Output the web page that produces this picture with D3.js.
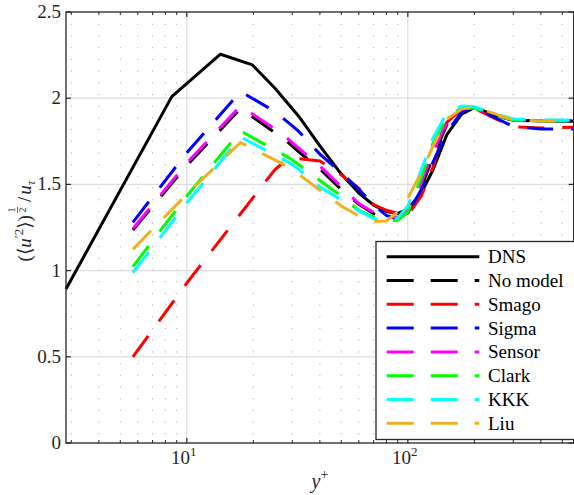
<!DOCTYPE html>
<html><head><meta charset="utf-8">
<script src="https://cdn.jsdelivr.net/npm/d3@7/dist/d3.min.js"></script>
<style>body{margin:0;background:#fff} svg{display:block} text{font-family:"Liberation Serif","Times New Roman","DejaVu Serif",serif;}</style>
</head><body>
<svg id="c" width="574" height="495"></svg>
<script>
// ---- data ----
const dnsX = [2.84, 8.55, 14.2, 19.8, 25, 32, 40, 50, 60, 70, 80, 90, 100, 115, 130, 150, 175, 200, 250, 300, 400, 560];
const dnsY = [0.893, 2.009, 2.255, 2.193, 2.059, 1.897, 1.724, 1.56, 1.45, 1.38, 1.343, 1.331, 1.357, 1.45, 1.585, 1.787, 1.908, 1.945, 1.90, 1.874, 1.868, 1.868];
const lesX = [5.7, 10, 17.5, 25, 29, 32, 40, 50, 60, 70, 80, 90, 100, 115, 130, 150, 175, 200, 250, 300, 400, 560];
const noModel = [1.235, 1.61, 1.94, 1.80, 1.74, 1.69, 1.59, 1.47, 1.385, 1.33, 1.31, 1.305, 1.335, 1.48, 1.66, 1.845, 1.93, 1.945, 1.90, 1.872, 1.866, 1.866];
const smago = [0.50, 0.928, 1.33, 1.585, 1.655, 1.65, 1.636, 1.555, 1.479, 1.383, 1.35, 1.331, 1.322, 1.433, 1.60, 1.86, 1.935, 1.94, 1.88, 1.835, 1.827, 1.832];
const sigma = [1.28, 1.684, 2.039, 1.923, 1.855, 1.809, 1.676, 1.566, 1.473, 1.38, 1.32, 1.30, 1.33, 1.47, 1.63, 1.80, 1.92, 1.95, 1.885, 1.835, 1.822, 1.822];
const sensor = [1.243, 1.624, 1.955, 1.821, 1.759, 1.711, 1.607, 1.485, 1.389, 1.337, 1.317, 1.31, 1.35, 1.508, 1.688, 1.862, 1.937, 1.943, 1.897, 1.874, 1.868, 1.868];
const clark = [1.023, 1.433, 1.81, 1.70, 1.654, 1.615, 1.523, 1.433, 1.349, 1.31, 1.29, 1.29, 1.34, 1.54, 1.74, 1.89, 1.943, 1.943, 1.90, 1.874, 1.868, 1.868];
const kkk = [0.988, 1.392, 1.775, 1.67, 1.627, 1.589, 1.485, 1.41, 1.346, 1.302, 1.282, 1.305, 1.375, 1.583, 1.769, 1.914, 1.955, 1.95, 1.908, 1.88, 1.874, 1.874];
const liu = [1.123, 1.443, 1.743, 1.642, 1.60, 1.56, 1.467, 1.375, 1.317, 1.285, 1.288, 1.34, 1.421, 1.566, 1.722, 1.879, 1.937, 1.95, 1.908, 1.874, 1.868, 1.868];
const seriesNames = ["DNS", "No model", "Smago", "Sigma", "Sensor", "Clark", "KKK", "Liu"];
const seriesColors = ["#000000", "#000000", "#ff0000", "#0000ff", "#ff00ff", "#00ff00", "#00ffff", "#edb120"];
const yTicks = [0, 0.5, 1, 1.5, 2, 2.5];
const yTickLabels = ["0", "0.5", "1", "1.5", "2", "2.5"];
const xMajor = [10, 100];

// ---- layout ----
const svg = d3.select("#c");
const L = 66, R = 573.7, T = 12, B = 443;
const x = d3.scaleLog().domain([2.84, 563]).range([L, R]);
const y = d3.scaleLinear().domain([0, 2.5]).range([B, T]);
const axisCol = "#262626";

const xMinor = [];
[1, 10, 100].forEach(d => { for (let k = 2; k <= 9; k++) { const v = k * d; if (v > 2.84 && v < 563) xMinor.push(v); } });

const grid = svg.append("g");
grid.selectAll(".mn").data(xMinor).enter().append("line")
  .attr("x1", d => x(d)).attr("x2", d => x(d)).attr("y1", T).attr("y2", B)
  .attr("stroke", "#b0b0b0").attr("stroke-width", 1).attr("stroke-dasharray", "1.2,10.5");
grid.selectAll(".mx").data(xMajor).enter().append("line")
  .attr("x1", d => x(d)).attr("x2", d => x(d)).attr("y1", T).attr("y2", B)
  .attr("stroke", "#dcdcdc").attr("stroke-width", 1.2);
grid.selectAll(".my").data(yTicks.slice(1, -1)).enter().append("line")
  .attr("x1", L).attr("x2", R).attr("y1", d => y(d)).attr("y2", d => y(d))
  .attr("stroke", "#dcdcdc").attr("stroke-width", 1.2);

// ---- lines ----
const lineGen = d3.line().x(d => x(d[0])).y(d => y(d[1]));
const plot = svg.append("g");
plot.append("path").datum(dnsX.map((v, i) => [v, dnsY[i]]))
  .attr("d", lineGen).attr("fill", "none").attr("stroke", seriesColors[0])
  .attr("stroke-width", 3).attr("stroke-linejoin", "round");
[noModel, smago, sigma, sensor, clark, kkk, liu].forEach((ser, j) => {
  plot.append("path").datum(lesX.map((v, i) => [v, ser[i]]))
    .attr("d", lineGen).attr("fill", "none").attr("stroke", seriesColors[j + 1])
    .attr("stroke-width", 3).attr("stroke-dasharray", "26,18");
});

// ---- axes ----
const ax = svg.append("g");
ax.append("rect").attr("x", L).attr("y", T).attr("width", R - L).attr("height", B - T)
  .attr("fill", "none").attr("stroke", axisCol).attr("stroke-width", 1.3);
yTicks.forEach(t => {
  ax.append("line").attr("x1", L).attr("x2", L + 5).attr("y1", y(t)).attr("y2", y(t)).attr("stroke", axisCol).attr("stroke-width", 1.2);
  ax.append("line").attr("x1", R - 5).attr("x2", R).attr("y1", y(t)).attr("y2", y(t)).attr("stroke", axisCol).attr("stroke-width", 1.2);
});
ax.selectAll(".yl").data(yTicks).enter().append("text")
  .attr("x", L - 5).attr("y", d => y(d) + 6).attr("text-anchor", "end")
  .style("font-size", "19px").attr("fill", axisCol)
  .text((d, i) => yTickLabels[i]);
xMajor.forEach(t => {
  ax.append("line").attr("x1", x(t)).attr("x2", x(t)).attr("y1", B).attr("y2", B - 5).attr("stroke", axisCol).attr("stroke-width", 1.2);
  ax.append("line").attr("x1", x(t)).attr("x2", x(t)).attr("y1", T).attr("y2", T + 5).attr("stroke", axisCol).attr("stroke-width", 1.2);
});
xMinor.forEach(t => {
  ax.append("line").attr("x1", x(t)).attr("x2", x(t)).attr("y1", B).attr("y2", B - 3).attr("stroke", axisCol).attr("stroke-width", 1);
  ax.append("line").attr("x1", x(t)).attr("x2", x(t)).attr("y1", T).attr("y2", T + 3).attr("stroke", axisCol).attr("stroke-width", 1);
});
xMajor.forEach(t => {
  const tx = ax.append("text").attr("x", x(t) - 3).attr("y", 463.5).attr("text-anchor", "middle")
    .style("font-size", "19px").attr("fill", axisCol);
  tx.append("tspan").text("10");
  tx.append("tspan").style("font-size", "13px").attr("dy", -8).text(String(Math.round(Math.log10(t))));
});
const xl = ax.append("text").attr("x", 320).attr("y", 488).attr("text-anchor", "middle")
  .style("font-size", "20px").attr("fill", axisCol);
xl.append("tspan").style("font-style", "italic").text("y");
xl.append("tspan").style("font-size", "14px").attr("dy", -9).text("+");

// y label
const yg = ax.append("g").attr("transform", "translate(31,222) rotate(-90)");
const inner = yg.append("g");
const t1 = inner.append("text").attr("x", 0).attr("y", 0).style("font-size", "19px").attr("fill", axisCol);
t1.append("tspan").text("(⟨");
t1.append("tspan").style("font-style", "italic").text("u");
t1.append("tspan").style("font-size", "13px").attr("dy", -8).text("′2");
t1.append("tspan").attr("dy", 8).text("⟩)");
const w1 = t1.node().getComputedTextLength();
inner.append("text").attr("x", w1 + 5).attr("y", -16).attr("text-anchor", "middle").style("font-size", "10px").attr("fill", axisCol).text("1");
inner.append("line").attr("x1", w1 + 2).attr("x2", w1 + 8).attr("y1", -13.5).attr("y2", -13.5).attr("stroke", axisCol).attr("stroke-width", 0.7);
inner.append("text").attr("x", w1 + 5).attr("y", -5.5).attr("text-anchor", "middle").style("font-size", "10px").attr("fill", axisCol).text("2");
const t2 = inner.append("text").attr("x", w1 + 13).attr("y", 0).style("font-size", "19px").attr("fill", axisCol);
t2.append("tspan").text("/");
t2.append("tspan").attr("dx", 2).style("font-style", "italic").text("u");
t2.append("tspan").style("font-style", "italic").style("font-size", "13px").attr("dy", 4).text("τ");
const total = w1 + 13 + t2.node().getComputedTextLength();
inner.attr("transform", `translate(${-total / 2},0)`);

// ---- legend ----
const lg = svg.append("g");
lg.append("rect").attr("x", 376).attr("y", 241.5).attr("width", 205).attr("height", 198)
  .attr("fill", "#fff").attr("stroke", axisCol).attr("stroke-width", 1.3);
seriesNames.forEach((nm, i) => {
  const yy = 256.7 + i * 23.8;
  lg.append("line").attr("x1", 386.7).attr("x2", 479.3).attr("y1", yy).attr("y2", yy)
    .attr("stroke", seriesColors[i]).attr("stroke-width", 3)
    .attr("stroke-dasharray", i === 0 ? null : "27,17");
  lg.append("text").attr("x", 488).attr("y", yy + 6.5)
    .style("font-size", "19px").attr("fill", "#000").text(nm);
});
</script>
</body></html>
